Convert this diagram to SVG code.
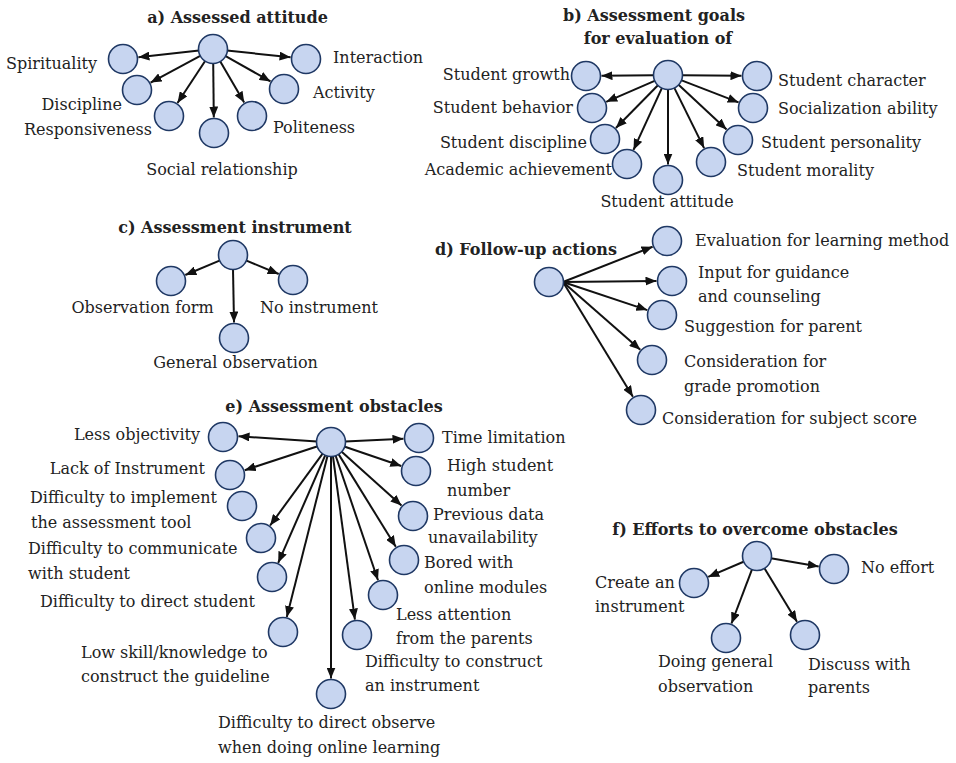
<svg xmlns="http://www.w3.org/2000/svg" width="956" height="763" viewBox="0 0 956 763">
<defs>
<marker id="ah" markerUnits="userSpaceOnUse" markerWidth="11" markerHeight="9" refX="11" refY="4.5" orient="auto">
<path d="M0,0 L11,4.5 L0,9 z" fill="#111"/>
</marker>
<style>
circle{fill:#c7d5f0;stroke:#1f3864;stroke-width:1.6}
text{font-family:"DejaVu Serif",serif;font-size:16px;fill:#222}
text.h{font-weight:bold;font-size:16px;text-anchor:middle}
.m{text-anchor:middle}
.r{text-anchor:end}
#edges line{stroke:#111;stroke-width:2;marker-end:url(#ah)}
</style>
</defs>
<rect width="956" height="763" fill="#fff"/>
<g id="titles">
<text class="h" x="237.5" y="23">a) Assessed attitude</text>
<text class="h" x="654" y="21">b) Assessment goals</text>
<text class="h" x="658" y="44">for evaluation of</text>
<text class="h" x="235" y="233">c) Assessment instrument</text>
<text class="h" x="526" y="255">d) Follow-up actions</text>
<text class="h" x="334" y="412">e) Assessment obstacles</text>
<text class="h" x="755" y="535">f) Efforts to overcome obstacles</text>
</g>
<g id="edges">
<line x1="199.1" y1="50.5" x2="138.4" y2="57.3"/>
<line x1="226.9" y1="50.5" x2="290.6" y2="57.3"/>
<line x1="200.7" y1="55.6" x2="150.6" y2="82.6"/>
<line x1="225.2" y1="55.9" x2="270.5" y2="81.4"/>
<line x1="205.3" y1="60.7" x2="177.5" y2="103"/>
<line x1="220" y1="61.1" x2="244.2" y2="102.6"/>
<line x1="213.2" y1="63" x2="213.8" y2="117.5"/>
<line x1="654" y1="75.2" x2="601.5" y2="75.8"/>
<line x1="682" y1="75.2" x2="741.5" y2="75.8"/>
<line x1="655.2" y1="80.6" x2="606.2" y2="101.8"/>
<line x1="681" y1="80.1" x2="738.6" y2="102.4"/>
<line x1="658.2" y1="85" x2="615.9" y2="128"/>
<line x1="678.3" y1="84.5" x2="726.6" y2="129.4"/>
<line x1="662.1" y1="87.7" x2="633.5" y2="149.9"/>
<line x1="674.2" y1="87.6" x2="704.1" y2="148.1"/>
<line x1="668" y1="89" x2="668" y2="164.5"/>
<line x1="220.1" y1="260.4" x2="185.3" y2="275"/>
<line x1="245.9" y1="260.4" x2="278.7" y2="274"/>
<line x1="233" y1="269" x2="234" y2="322.5"/>
<line x1="563" y1="282" x2="652.6" y2="246.7"/>
<line x1="563" y1="282" x2="656.5" y2="281"/>
<line x1="563" y1="282" x2="647.3" y2="310.1"/>
<line x1="563" y1="282" x2="640.3" y2="349.8"/>
<line x1="563" y1="282" x2="632.9" y2="396.8"/>
<line x1="317" y1="441.4" x2="238.5" y2="436.3"/>
<line x1="317.7" y1="446.3" x2="244.7" y2="470.2"/>
<line x1="322.8" y1="453.3" x2="270.1" y2="525.5"/>
<line x1="325.4" y1="454.8" x2="278.2" y2="562.8"/>
<line x1="327.6" y1="455.6" x2="286.8" y2="617"/>
<line x1="331" y1="456" x2="331" y2="678.5"/>
<line x1="345" y1="441.4" x2="403.5" y2="438.7"/>
<line x1="344.2" y1="446.5" x2="401.3" y2="466"/>
<line x1="341.4" y1="451.4" x2="401.5" y2="505.6"/>
<line x1="338.4" y1="453.9" x2="395.8" y2="546.8"/>
<line x1="335.5" y1="455.3" x2="378" y2="580.3"/>
<line x1="332.9" y1="455.9" x2="354.9" y2="619.6"/>
<line x1="744.1" y1="561.5" x2="708.2" y2="576.9"/>
<line x1="770.8" y1="558.3" x2="818.7" y2="566.4"/>
<line x1="752.1" y1="569.1" x2="731.5" y2="623.5"/>
<line x1="764.3" y1="568" x2="797" y2="621.7"/>
</g>
<!-- a -->
<g id="a-root"><circle cx="213" cy="49" r="14.5"/></g>
<g id="a-spirituality"><circle cx="123" cy="59" r="14.5"/><text class="r" x="97" y="69">Spirituality</text></g>
<g id="a-interaction"><circle cx="306" cy="59" r="14.5"/><text x="333" y="63">Interaction</text></g>
<g id="a-discipline"><circle cx="137" cy="90" r="14.5"/><text class="r" x="122" y="110">Discipline</text></g>
<g id="a-activity"><circle cx="284" cy="89" r="14.5"/><text x="313" y="98">Activity</text></g>
<g id="a-responsiveness"><circle cx="169" cy="116" r="14.5"/><text class="r" x="152" y="135">Responsiveness</text></g>
<g id="a-politeness"><circle cx="252" cy="116" r="14.5"/><text x="273" y="133">Politeness</text></g>
<g id="a-social"><circle cx="214" cy="133" r="14.5"/><text class="m" x="222" y="175">Social relationship</text></g>
<!-- b -->
<g id="b-root"><circle cx="668" cy="75" r="14.5"/></g>
<g id="b-growth"><circle cx="586" cy="76" r="14.5"/><text class="r" x="570" y="80">Student growth</text></g>
<g id="b-character"><circle cx="757" cy="76" r="14.5"/><text x="778" y="86">Student character</text></g>
<g id="b-behavior"><circle cx="592" cy="108" r="14.5"/><text class="r" x="573" y="113">Student behavior</text></g>
<g id="b-socialization"><circle cx="753" cy="108" r="14.5"/><text x="778" y="114">Socialization ability</text></g>
<g id="b-discipline"><circle cx="605" cy="139" r="14.5"/><text class="r" x="587" y="148">Student discipline</text></g>
<g id="b-personality"><circle cx="738" cy="140" r="14.5"/><text x="761" y="148">Student personality</text></g>
<g id="b-academic"><circle cx="627" cy="164" r="14.5"/><text class="r" x="612" y="175">Academic achievement</text></g>
<g id="b-morality"><circle cx="711" cy="162" r="14.5"/><text x="737" y="176">Student morality</text></g>
<g id="b-attitude"><circle cx="668" cy="180" r="14.5"/><text class="m" x="667" y="207">Student attitude</text></g>
<!-- c -->
<g id="c-root"><circle cx="233" cy="255" r="14.5"/></g>
<g id="c-form"><circle cx="171" cy="281" r="14.5"/><text class="m" x="142.5" y="313">Observation form</text></g>
<g id="c-none"><circle cx="293" cy="280" r="14.5"/><text class="m" x="319" y="313">No instrument</text></g>
<g id="c-general"><circle cx="234" cy="338" r="14.5"/><text class="m" x="235.5" y="368">General observation</text></g>
<!-- d -->
<g id="d-root"><circle cx="549" cy="282" r="14.5"/></g>
<g id="d-evaluation"><circle cx="667" cy="241" r="14.5"/><text x="695" y="246">Evaluation for learning method</text></g>
<g id="d-input"><circle cx="672" cy="281" r="14.5"/><text x="698" y="278">Input for guidance</text><text x="698" y="302">and counseling</text></g>
<g id="d-suggestion"><circle cx="662" cy="315" r="14.5"/><text x="684" y="332">Suggestion for parent</text></g>
<g id="d-promotion"><circle cx="652" cy="360" r="14.5"/><text x="684" y="367">Consideration for</text><text x="684" y="392">grade promotion</text></g>
<g id="d-score"><circle cx="641" cy="410" r="14.5"/><text x="662" y="424">Consideration for subject score</text></g>
<!-- e -->
<g id="e-root"><circle cx="331" cy="442" r="14.5"/></g>
<g id="e-objectivity"><circle cx="223" cy="437" r="14.5"/><text class="r" x="200" y="440">Less objectivity</text></g>
<g id="e-lack"><circle cx="230" cy="475" r="14.5"/><text class="r" x="205" y="474">Lack of Instrument</text></g>
<g id="e-implement"><circle cx="242" cy="506" r="14.5"/><text x="30" y="503">Difficulty to implement</text><text x="31" y="528">the assessment tool</text></g>
<g id="e-communicate"><circle cx="261" cy="538" r="14.5"/><text x="28" y="554">Difficulty to communicate</text><text x="28" y="579">with student</text></g>
<g id="e-direct"><circle cx="272" cy="577" r="14.5"/><text x="40" y="607">Difficulty to direct student</text></g>
<g id="e-skill"><circle cx="283" cy="632" r="14.5"/><text x="81" y="658">Low skill/knowledge to</text><text x="81" y="682">construct the guideline</text></g>
<g id="e-observe"><circle cx="331" cy="694" r="14.5"/><text x="218" y="728">Difficulty to direct observe</text><text x="218" y="753">when doing online learning</text></g>
<g id="e-time"><circle cx="419" cy="438" r="14.5"/><text x="442" y="443">Time limitation</text></g>
<g id="e-high"><circle cx="416" cy="471" r="14.5"/><text x="447" y="471">High student</text><text x="447" y="496">number</text></g>
<g id="e-previous"><circle cx="413" cy="516" r="14.5"/><text x="433" y="520">Previous data</text><text x="428" y="543">unavailability</text></g>
<g id="e-bored"><circle cx="404" cy="560" r="14.5"/><text x="424" y="568">Bored with</text><text x="424" y="593">online modules</text></g>
<g id="e-attention"><circle cx="383" cy="595" r="14.5"/><text x="396" y="620">Less attention</text><text x="396" y="644">from the parents</text></g>
<g id="e-construct"><circle cx="357" cy="635" r="14.5"/><text x="365" y="667">Difficulty to construct</text><text x="365" y="691">an instrument</text></g>
<!-- f -->
<g id="f-root"><circle cx="757" cy="556" r="14.5"/></g>
<g id="f-create"><circle cx="694" cy="583" r="14.5"/><text x="595" y="588">Create an</text><text x="595" y="612">instrument</text></g>
<g id="f-none"><circle cx="834" cy="569" r="14.5"/><text x="861" y="573">No effort</text></g>
<g id="f-doing"><circle cx="726" cy="638" r="14.5"/><text x="658" y="667">Doing general</text><text x="658" y="692">observation</text></g>
<g id="f-discuss"><circle cx="805" cy="635" r="14.5"/><text x="808" y="670">Discuss with</text><text x="808" y="693">parents</text></g>
</svg>
